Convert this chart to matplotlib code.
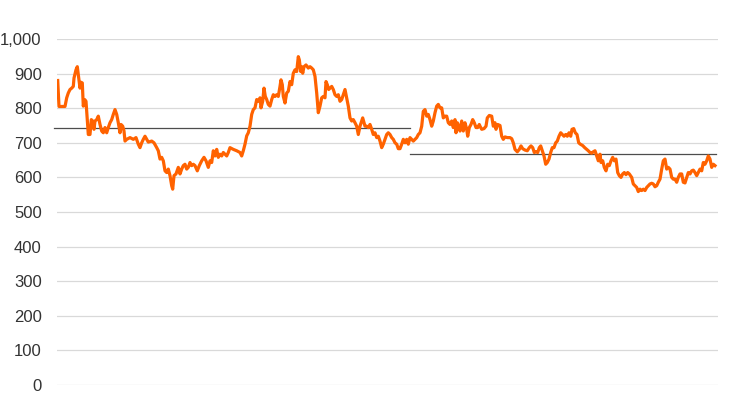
import matplotlib
matplotlib.use("Agg")
import matplotlib.pyplot as plt
from matplotlib.ticker import FuncFormatter

# period index (time axis, no labels shown) and index values
t = [0.7, 2, 4.7, 8, 9.7, 11.3, 13, 14.7, 16.3, 17, 19, 20.3, 21.7, 23, 24, 25.3, 26.3, 27.7, 29,
     30.3, 31.3, 33, 34.3, 35.7, 37, 38, 39.7, 41.3, 43, 44.7, 46.3, 48, 49.7, 51.3, 53, 54.7, 56.3,
     58, 59.7, 61.3, 63, 64, 65.7, 67, 68, 69.7, 73, 76.3, 79, 81.3, 83, 84.7, 86.3, 88, 89.7, 91.3,
     94.7, 97, 99.7, 101.3, 103, 104.7, 106.3, 108, 109.7, 111.3, 113, 114.7, 115.7, 117, 119, 121.3,
     123, 124.7, 126.3, 128, 129.7, 131.3, 133, 134.7, 136.3, 138, 140.3, 142.3, 144.7, 147, 149,
     151.3, 153, 154.7, 156.3, 158, 159.7, 161.3, 163, 164.7, 166.3, 168, 169.7, 171.3, 173, 176.3,
     179.7, 183, 184.7, 186.3, 188, 189.7, 191.3, 193, 194.7, 196.3, 198, 199.7, 201.3, 203, 204,
     205.7, 207, 208.3, 209.7, 211.3, 213, 214.7, 216.3, 218, 219.7, 221.3, 223, 224, 225.3, 226.3,
     228, 229.7, 231.3, 233, 234.7, 236.3, 238, 239.7, 241.3, 242.3, 243.7, 244.7, 245.7, 247, 249,
     251.3, 253, 254.7, 256.3, 258, 259.7, 261.3, 263, 264.7, 266.3, 268, 269, 270.3, 271.7, 273,
     274.7, 276.3, 278, 279.7, 281.3, 283, 284.7, 286.3, 288, 289.7, 291.3, 293, 294.7, 296.3, 298,
     299.7, 301.3, 303, 304.7, 305.7, 307, 308, 309.7, 311.3, 313, 314.7, 316.3, 318, 319.7, 321.3,
     323, 324.7, 326.3, 328, 329.7, 331.3, 333, 334.7, 336.3, 338, 339.7, 341.3, 343, 344.7, 346.3,
     348, 349.7, 351.3, 353, 354.7, 356.3, 358, 359.7, 361.3, 363, 364.7, 366.3, 368, 369.7, 371.3,
     373, 374.7, 376.3, 378, 379.7, 381.3, 383, 384.7, 386.3, 388, 389.7, 391.3, 393, 394.7, 396.3,
     398, 399, 400.3, 401.7, 403, 404.7, 406.3, 408, 409.7, 410.7, 412.3, 414, 415.7, 417.3, 419,
     420.7, 422.3, 423, 424.7, 427, 429, 430.3, 432.3, 434.7, 436.3, 438, 439, 440.7, 443, 444.7,
     446.3, 448, 450.3, 453, 454.7, 456.3, 458, 460.3, 462.3, 464, 465.7, 468, 470.3, 472.3, 474,
     475.7, 477.3, 479, 480.7, 482.3, 483.7, 485.3, 487, 488.7, 490.3, 492, 493.7, 495.3, 497, 498.7,
     500.3, 502, 503.7, 505.3, 507, 508.7, 510.3, 512, 513.7, 515, 516.7, 518.3, 520, 521.7, 523.3,
     525.7, 527.7, 529.7, 531.3, 533, 534.7, 536.3, 538, 539.7, 541.3, 543, 544, 545.7, 547.3, 549,
     550.7, 552.3, 554, 555.7, 557.3, 559, 560.7, 562.3, 564, 565.7, 567.3, 569, 570.7, 572.3, 574.7,
     576.3, 578, 579.7, 581.3, 583, 584.7, 586.3, 588, 589.7, 591.3, 593, 594.7, 596.3, 598, 599.7,
     601.3, 603, 604.7, 606.3, 608, 609.7, 611.3, 613, 614.7, 616.3, 618, 619.7, 621.3, 623, 624.7,
     626.3, 628, 629.7, 631.3, 633, 634.7, 636.3, 638, 639.7, 641.3, 643, 644.7, 646.3, 648, 649.7,
     651.3, 653, 654.7, 656.3, 658]

values = [880, 805, 805, 805, 830, 844, 854, 858, 863, 887, 911, 920, 887, 858, 875, 873, 806, 825, 820,
          767, 724, 724, 767, 763, 739, 763, 767, 777, 753, 734, 729, 744, 729, 744, 758, 767, 782,
          796, 782, 758, 729, 753, 748, 734, 705, 710, 715, 710, 715, 696, 686, 700, 710, 719, 710, 702,
          705, 700, 686, 677, 653, 658, 648, 619, 614, 624, 605, 576, 566, 605, 610, 629,
          610, 624, 634, 638, 624, 629, 643, 634, 638, 634, 619, 634, 648, 658, 648,
          629, 648, 643, 677, 662, 681, 658, 667, 662, 672, 667, 662, 672, 686, 681,
          677, 672, 662, 677, 696, 720, 729, 748, 782, 796, 801, 825, 820, 830, 801,
          820, 858, 834, 825, 811, 806, 825, 839, 834, 839, 834, 863, 882, 868, 834,
          815, 844, 849, 877, 868, 901, 911, 906, 949, 940, 906, 920, 901, 920, 925,
          916, 920, 916, 911, 892, 844, 787, 806, 830, 834, 830, 877, 868, 854, 858,
          863, 854, 839, 834, 839, 820, 825, 839, 854, 830, 806, 772, 763, 767, 758,
          748, 724, 748, 763, 772, 758, 748, 748, 744, 753, 739, 724, 729, 715, 719,
          705, 686, 696, 710, 724, 729, 724, 715, 710, 700, 696, 683, 683, 696, 710,
          700, 710, 696, 715, 710, 705, 710, 715, 724, 729, 748, 791, 796, 777, 782,
          767, 748, 763, 787, 806, 811, 801, 801, 772, 777, 777, 758, 753, 763, 744,
          767, 729, 758, 748, 734, 763, 734, 758, 739, 719, 744, 753, 767, 758, 744,
          744, 753, 748, 739, 741, 748, 772, 779, 777, 748, 758, 739, 753, 750, 719,
          710, 717, 715, 715, 712, 700, 681, 674, 681, 691, 683, 679, 677, 686, 691,
          686, 672, 674, 672, 686, 691, 677, 662, 638, 643, 653, 672, 686, 686, 700,
          705, 719, 729, 724, 719, 724, 719, 729, 719, 739, 741, 729, 724, 700, 696,
          692, 686, 681, 677, 672, 670, 674, 677, 662, 648, 667, 643, 648, 629, 619,
          638, 634, 648, 658, 648, 653, 614, 605, 600, 610, 614, 608, 614, 610, 600,
          581, 576, 571, 559, 566, 562, 566, 562, 571, 576, 581, 583, 581, 573, 576,
          586, 595, 624, 648, 653, 624, 629, 624, 600, 595, 595, 586, 600, 610, 610,
          586, 584, 600, 614, 610, 619, 621, 614, 605, 614, 624, 619, 643, 638, 648,
          662, 653, 629, 638, 634]

# period averages
avg_periods = [(-3, 353), (353, 659)]
avg_values = [743, 668]

yticks = [0, 100, 200, 300, 400, 500, 600, 700, 800, 900, 1000]

plt.rcParams['font.family'] = ['Liberation Sans', 'DejaVu Sans']

fig = plt.figure(figsize=(7.44, 4.13), dpi=100)
ax = fig.add_axes([57 / 744, (413 - 385) / 413, (718 - 57) / 744, (385 - 39) / 413])

for (x0, x1), v in zip(avg_periods, avg_values):
    ax.plot([x0, x1], [v, v], color='#4d4d4d', lw=0.9, zorder=3, clip_on=False)

ax.plot(t, values, color='#FF6200', lw=2.3, zorder=4, solid_joinstyle='round')

ax.set_ylim(0, 1000)
ax.set_xlim(0, 661)
ax.set_yticks(yticks)
ax.yaxis.set_major_formatter(FuncFormatter(lambda v, p: f"{int(v):,}"))
ax.set_xticks([])
ax.grid(axis='y', color='#d9d9d9', lw=0.9)
ax.set_axisbelow(True)
for s in ax.spines.values():
    s.set_visible(False)
ax.tick_params(axis='y', length=0, pad=11, labelsize=12, labelcolor='#333333')

fig.savefig('out.png', dpi=100)
